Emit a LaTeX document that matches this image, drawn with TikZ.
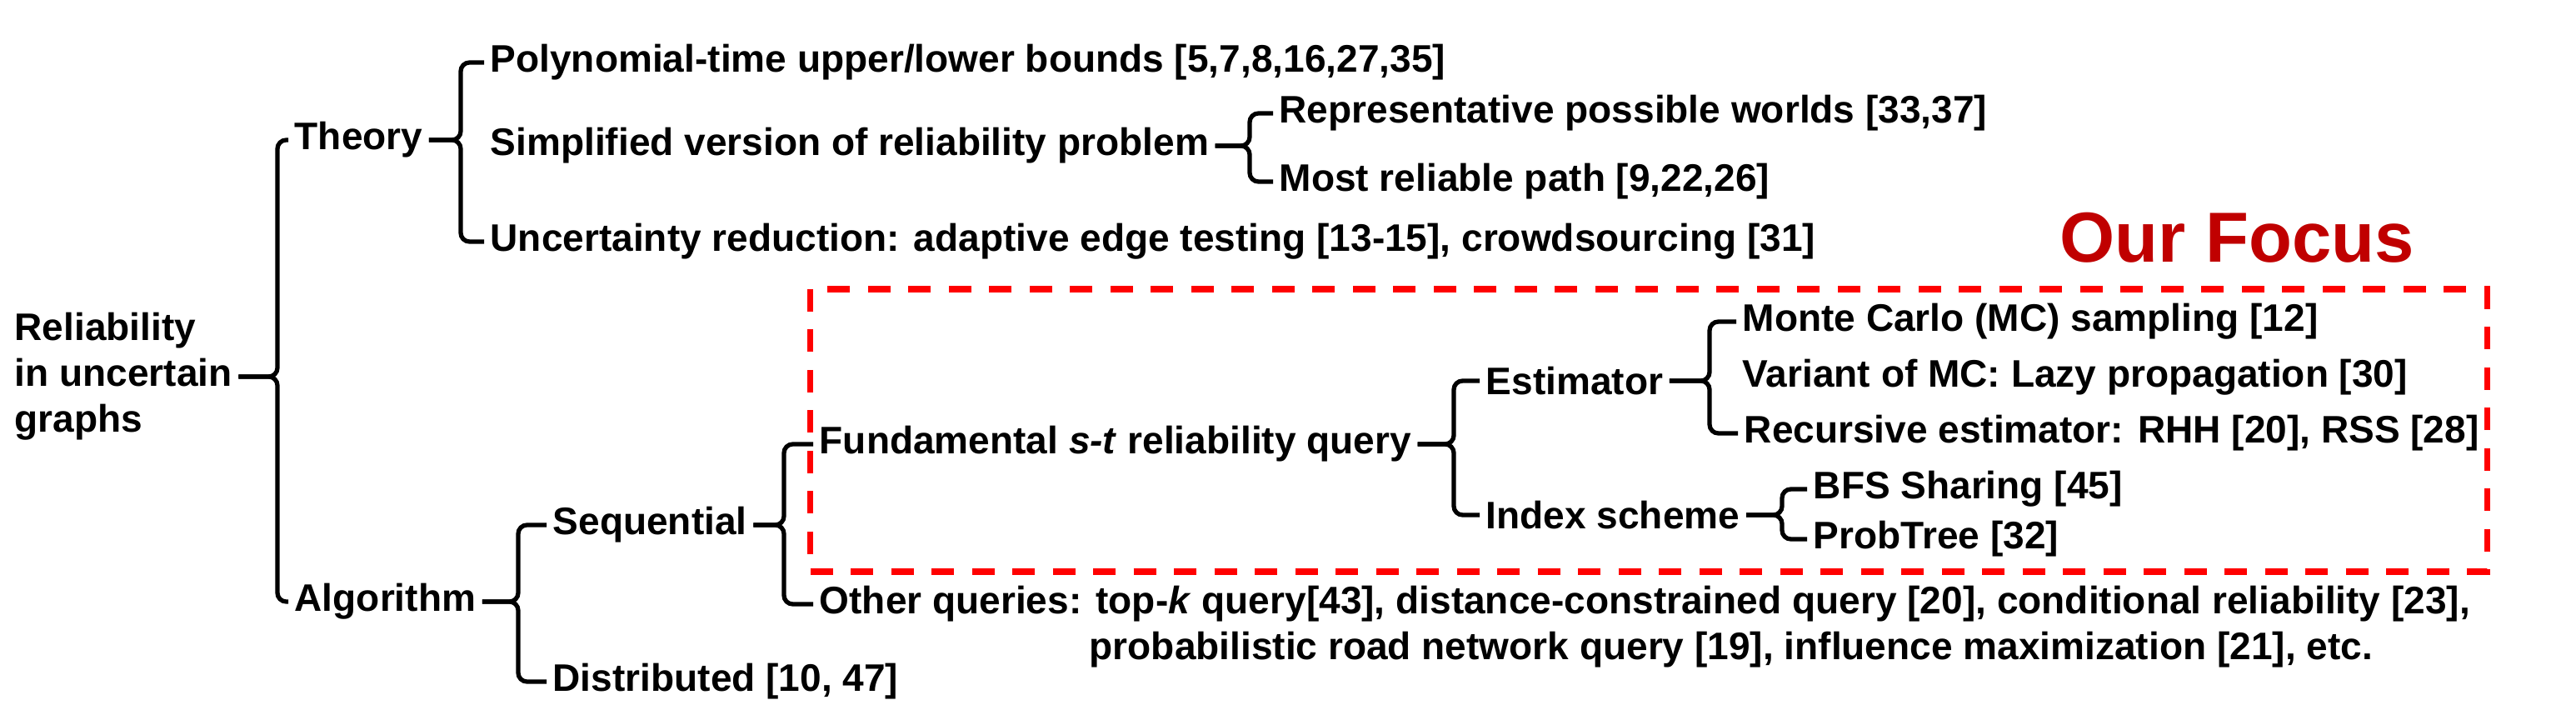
\documentclass[tikz,border=0pt]{standalone}
\usepackage{fontspec}
\setmainfont{Liberation Sans}
\usepackage{tikz}
\definecolor{focusred}{HTML}{C00000}
\tikzset{
  topic/.style={anchor=west,inner sep=2pt,font=\bfseries\fontsize{13.1}{15.6}\selectfont},
  fork/.style={draw,line width=1.5pt,rounded corners=3pt},
  focusbox/.style={draw=red,line width=2pt,dash pattern=on 2.7mm off 2.15mm},
  focuslabel/.style={inner sep=0pt,text=focusred,font=\bfseries\fontsize{24.2}{29}\selectfont}
}

\begin{document}
\begin{tikzpicture}
  \useasboundingbox (0,0) rectangle (30.92,-8.58);

  \node[topic,align=left] (root) at (0.10,-4.52) {Reliability\\in uncertain\\graphs};

  \node[topic] (theory) at (3.46,-1.68) {Theory};
  \node[topic] (algo)   at (3.46,-7.22) {Algorithm};

  \node[topic] (poly) at (5.81,-0.75) {Polynomial-time upper/lower bounds [5,7,8,16,27,35]};
  \node[topic] (simp) at (5.81,-1.75) {Simplified version of reliability problem};
  \node[topic] (unc)  at (5.81,-2.90) {Uncertainty reduction: adaptive edge testing [13-15], crowdsourcing [31]};
  \node[topic] (repr) at (15.28,-1.36) {Representative possible worlds [33,37]};
  \node[topic] (mrp)  at (15.28,-2.18) {Most reliable path [9,22,26]};

  \node[topic] (seq)  at (6.56,-6.30) {Sequential};
  \node[topic] (dist) at (6.56,-8.18) {Distributed [10, 47]};

  \node[topic] (fund)   at (9.76,-5.33) {Fundamental \textit{s-t} reliability query};
  \node[topic] (other)  at (9.76,-7.25) {Other queries: top-\textit{k} query[43], distance-constrained query [20], conditional reliability [23],};
  \node[topic] (otherb) at (13.00,-7.80) {probabilistic road network query [19], influence maximization [21], etc.};

  \node[topic] (est) at (17.76,-4.57) {Estimator};
  \node[topic] (idx) at (17.76,-6.18) {Index scheme};

  \node[topic] (mc)  at (20.84,-3.86) {Monte Carlo (MC) sampling [12]};
  \node[topic] (var) at (20.84,-4.53) {Variant of MC: Lazy propagation [30]};
  \node[topic] (rec) at (20.86,-5.20) {Recursive estimator: RHH [20], RSS [28]};
  \node[topic] (bfs) at (21.69,-5.87) {BFS Sharing [45]};
  \node[topic] (pt)  at (21.69,-6.47) {ProbTree [32]};

  \node[focuslabel] (focus) at (26.85,-2.85) {Our Focus};
  \draw[focusbox] (9.72,-3.47) rectangle (29.85,-6.86);

  \coordinate (rootfork)   at (3.33,0);
  \coordinate (theoryfork) at (5.53,0);
  \coordinate (simpfork)   at (15.00,0);
  \coordinate (algofork)   at (6.22,0);
  \coordinate (seqfork)    at (9.41,0);
  \coordinate (fundfork)   at (17.45,0);
  \coordinate (estfork)    at (20.52,0);
  \coordinate (idxfork)    at (21.39,0);

  \draw[fork] (root.east) -- (root.east -| rootfork) |- (theory.west);
  \draw[fork] (root.east) -- (root.east -| rootfork) |- (algo.west);
  \draw[fork] (theory.east) -- (theory.east -| theoryfork) |- (poly.west);
  \draw[fork] (theory.east) -- (theory.east -| theoryfork) |- (unc.west);
  \draw[fork] (simp.east) -- (simp.east -| simpfork) |- (repr.west);
  \draw[fork] (simp.east) -- (simp.east -| simpfork) |- (mrp.west);
  \draw[fork] (algo.east) -- (algo.east -| algofork) |- (seq.west);
  \draw[fork] (algo.east) -- (algo.east -| algofork) |- (dist.west);
  \draw[fork] (seq.east) -- (seq.east -| seqfork) |- (fund.west);
  \draw[fork] (seq.east) -- (seq.east -| seqfork) |- (other.west);
  \draw[fork] (fund.east) -- (fund.east -| fundfork) |- (est.west);
  \draw[fork] (fund.east) -- (fund.east -| fundfork) |- (idx.west);
  \draw[fork] (est.east) -- (est.east -| estfork) |- (mc.west);
  \draw[fork] (est.east) -- (est.east -| estfork) |- (rec.west);
  \draw[fork] (idx.east) -- (idx.east -| idxfork) |- (bfs.west);
  \draw[fork] (idx.east) -- (idx.east -| idxfork) |- (pt.west);
\end{tikzpicture}
\end{document}
